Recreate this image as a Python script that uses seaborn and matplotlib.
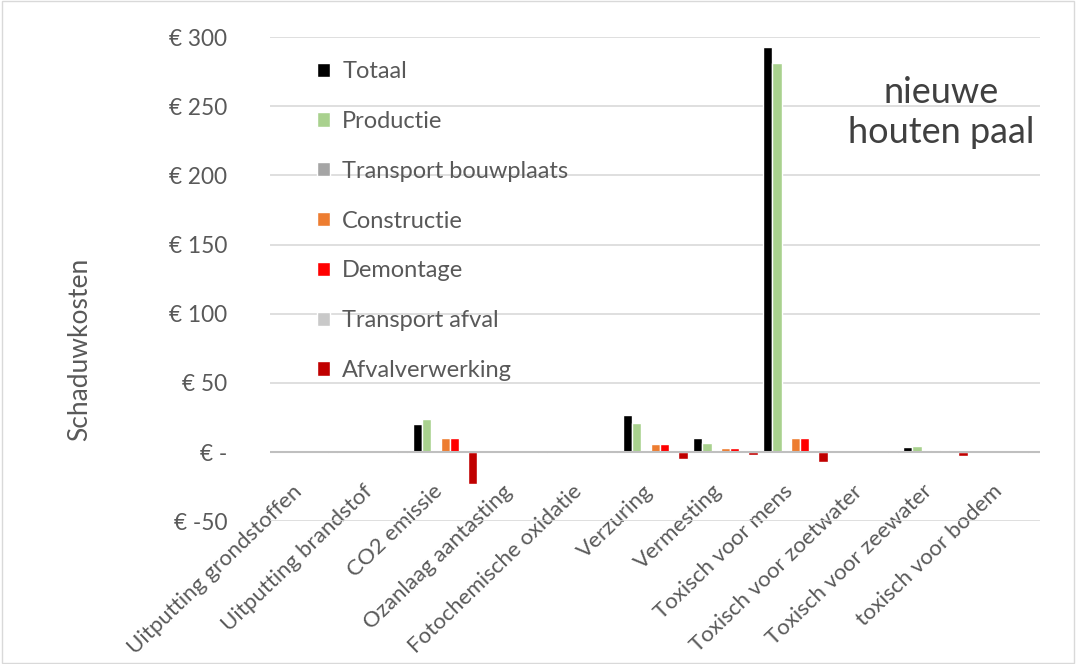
import pandas as pd
import matplotlib
matplotlib.use("Agg")
import matplotlib.pyplot as plt
import matplotlib.transforms as mtransforms
import seaborn as sns

# Data (schaduwkosten in euro)
categories = ['Uitputting grondstoffen', 'Uitputting brandstof', 'CO2 emissie',
              'Ozanlaag aantasting', 'Fotochemische oxidatie', 'Verzuring',
              'Vermesting', 'Toxisch voor mens', 'Toxisch voor zoetwater',
              'Toxisch voor zeewater', 'toxisch voor bodem']
series = ['Totaal', 'Productie', 'Transport bouwplaats', 'Constructie',
          'Demontage', 'Transport afval', 'Afvalverwerking']

totaal = [0.5, 1.0, 20.0, 0.3, 1.0, 26.5, 10.0, 293.0, 0.8, 4.0, 1.0]
productie = [0.3, 1.0, 24.0, 0.2, 0.8, 21.0, 6.5, 281.0, 0.5, 4.5, 0.6]
transport_bouwplaats = [0.05, 0.1, 0.3, 0.0, 0.05, 0.2, 0.1, 0.5, 0.05, 0.1, 0.05]
constructie = [0.2, 0.5, 10.0, 0.1, 0.4, 5.5, 3.0, 10.0, 0.3, 1.5, 0.3]
demontage = [0.2, 0.5, 10.0, 0.1, 0.4, 5.5, 3.0, 10.0, 0.3, 1.5, 0.3]
transport_afval = [0.02, 0.05, 0.1, 0.0, 0.02, 0.1, 0.05, 0.2, 0.02, 0.05, 0.02]
afvalverwerking = [-0.3, -1.0, -23.0, -0.3, -0.3, -5.0, -2.0, -7.0, -0.5, -3.0, -0.5]

colors = ['#000000', '#a9d18e', '#a5a5a5', '#ed7d31', '#ff0000', '#c9c9c9', '#c00000']
yticks = [-50, 0, 50, 100, 150, 200, 250, 300]
ytick_labels = ['€ -50', '€ -', '€ 50', '€ 100', '€ 150', '€ 200', '€ 250', '€ 300']

values = [totaal, productie, transport_bouwplaats, constructie,
          demontage, transport_afval, afvalverwerking]
rows = []
for s, vals in zip(series, values):
    for c, v in zip(categories, vals):
        rows.append({'Categorie': c, 'Reeks': s, 'Kosten': v})
df = pd.DataFrame(rows)

sns.set_style('white')
plt.rcParams['font.family'] = ['Lato', 'DejaVu Sans']
txt = '#595959'

fig = plt.figure(figsize=(10.76, 6.64), dpi=100)
ax = fig.add_axes([0.251, 0.215, 0.716, 0.729])

sns.barplot(data=df, x='Categorie', y='Kosten', hue='Reeks', hue_order=series,
            order=categories, palette=colors, width=0.92, saturation=1,
            ax=ax, legend=True)

ax.set_ylim(-50, 300)
ax.set_yticks(yticks)
ax.set_yticklabels(ytick_labels, fontsize=16.3, color=txt)
ax.yaxis.grid(True, color='#d9d9d9', linewidth=1.2)
ax.set_axisbelow(True)
ax.axhline(0, color='#bfbfbf', linewidth=1.5, zorder=1)
for sp in ax.spines.values():
    sp.set_visible(False)
ax.tick_params(axis='y', length=0, pad=31)
ax.set_xlim(-0.5, len(categories) - 0.5)
ax.set_xticks(range(len(categories)))
ax.set_xticklabels(categories, rotation=44, ha='right', va='center',
                   rotation_mode='anchor', fontsize=16, color=txt)
ax.tick_params(axis='x', length=0, pad=0)
# lift the category labels so they start just below the zero line
shift = mtransforms.ScaledTranslation(-6 / 100, 33 / 100, fig.dpi_scale_trans)
for lab in ax.get_xticklabels():
    lab.set_transform(lab.get_transform() + shift)
ax.set_xlabel('')
ax.set_ylabel('')

fig.text(0.074, 0.474, 'Schaduwkosten', rotation=90, fontsize=19, color=txt,
         ha='center', va='center')
fig.text(0.875, 0.831, 'nieuwe\nhouten paal', fontsize=26, color='#404040',
         ha='center', va='center', linespacing=1.25)

handles, labels = ax.get_legend_handles_labels()
ax.legend(handles, labels, loc='upper left', bbox_to_anchor=(0.295, 0.908),
          bbox_transform=fig.transFigure, frameon=False, fontsize=17,
          labelspacing=1.22, handlelength=0.55, handleheight=0.55,
          handletextpad=0.5, borderpad=0, borderaxespad=0, labelcolor=txt)

fig.patches.append(plt.Rectangle((0.002, 0.002), 0.996, 0.996, fill=False,
                                 edgecolor='#d9d9d9', linewidth=1,
                                 transform=fig.transFigure))

plt.savefig('out.png', dpi=100)
